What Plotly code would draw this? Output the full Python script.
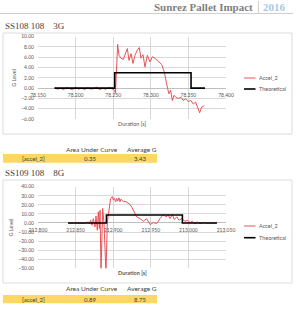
import plotly.graph_objects as go

W, H = 300, 312

# ---------------- data ----------------
c1_accel_t = [78.172, 78.176, 78.180, 78.184, 78.188, 78.192, 78.196, 78.200, 78.204, 78.208,
              78.212, 78.216, 78.220, 78.224, 78.228, 78.232, 78.236, 78.240, 78.244, 78.248,
              78.2515, 78.2530, 78.2546, 78.2559, 78.2577, 78.2604, 78.2635, 78.2666, 78.2688,
              78.2710, 78.2737, 78.2763, 78.2790, 78.2821, 78.2847, 78.2869, 78.2896, 78.2923,
              78.2954, 78.2989, 78.3020, 78.3056, 78.3100, 78.3144, 78.3180, 78.3202, 78.3224,
              78.3242, 78.3264, 78.3286, 78.3308, 78.3335, 78.3366, 78.3401, 78.3432, 78.3463,
              78.3499, 78.3534, 78.3565, 78.3596, 78.3623, 78.3649, 78.3676, 78.3711]
c1_accel_g = [0.1, -0.2, 0.0, -0.3, 0.1, -0.1, -0.3, 0.2, -0.2, 0.0,
              -0.3, 0.1, -0.2, -0.1, 0.2, -0.3, 0.0, -0.2, 0.1, -0.1,
              -0.4, -1.0, 5.1, 8.5, 6.4, 5.8, 5.6, 7.1, 7.7,
              5.4, 6.7, 4.8, 6.4, 7.4, 7.9, 5.8, 6.5, 4.1,
              6.4, 5.1, 6.1, 5.8, 5.1, 4.6, 3.1, 1.2, -0.1,
              -1.1, -0.4, -2.4, -1.4, -1.8, -2.0, -1.8, -2.4, -2.1,
              -2.6, -2.4, -3.1, -2.7, -3.7, -4.8, -3.7, -3.4]
c1_theo_t = [78.172, 78.252, 78.252, 78.3535, 78.3535, 78.372]
c1_theo_g = [0, 0, 3, 3, 0, 0]

c2_accel_t = [212.840, 212.844, 212.848, 212.852, 212.856, 212.860, 212.8647, 212.8670,
              212.8683, 212.8701, 212.8718, 212.8736, 212.8758, 212.8771, 212.8789, 212.8802,
              212.8816, 212.8825, 212.8838, 212.8860, 212.8878, 212.8904, 212.8922, 212.8949,
              212.8966, 212.8989, 212.9002, 212.9015, 212.9033, 212.9046, 212.9059, 212.9077,
              212.9090, 212.9104, 212.9121, 212.9135, 212.9157, 212.9179, 212.9201, 212.9223,
              212.9245, 212.9268, 212.9290, 212.9312, 212.9356, 212.9401, 212.9445, 212.9489,
              212.9534, 212.9578, 212.9622, 212.9667, 212.9698, 212.9733, 212.9755, 212.9786,
              212.9813, 212.9844, 212.9875, 212.9910, 212.9955, 212.9990, 213.0021, 213.0052,
              213.0087, 213.0123, 213.0154, 213.0198, 213.0242, 213.0300, 213.0380]
c2_accel_g = [0.2, -0.3, 0.1, -0.2, 0.3, -0.4, 0.5, 1.1,
              -1.1, 3.0, -2.6, 4.8, -4.4, 7.8, -8.1, 12.3,
              -6.3, 14.1, -55.0, 16.0, -0.7, -55.0, 1.1, 16.0,
              27.1, 28.9, 25.2, 27.1, 23.3, 27.1, 24.1, 27.8,
              23.3, 26.3, 25.2, 23.3, 24.1, 22.6, 21.5, 20.4,
              17.8, 14.1, 9.6, 6.7, 4.8, 1.9, 4.8, -1.8,
              0.4, -0.7, 4.8, 9.3, 6.7, 8.6, 4.8, 9.3,
              3.7, 6.7, 3.0, 4.8, 1.9, 3.0, 0.4, 1.9,
              -1.1, 1.1, -0.7, 0.4, 0.0, 0.2, 0.0]
c2_theo_t = [212.840, 212.891, 212.891, 212.992, 212.992, 213.038]
c2_theo_g = [0, 0, 8.75, 8.75, 0, 0]

series_names = ["Accel_2", "Theoretical"]
chart_titles = ["SS108 108    3G", "SS109 108    8G"]
table_headers = ["Area Under Curve", "Average G"]
table_label = "[accel_2]"
table1_values = ["0.35", "3.43"]
table2_values = ["0.89", "8.75"]

# ---------------- helpers ----------------
def fx(p):
    return p / W

def fy(p):
    return 1 - p / H

RED = "#E8545A"
GRID = "#d9d9d9"
TXT = "#595959"
FONT = "Lato"
SERIF = "Liberation Serif"

fig = go.Figure()

fig.add_trace(go.Scatter(x=c1_accel_t, y=c1_accel_g, mode="lines", name=series_names[0],
                         line=dict(color=RED, width=1), xaxis="x", yaxis="y", showlegend=False))
fig.add_trace(go.Scatter(x=c1_theo_t, y=c1_theo_g, mode="lines", name=series_names[1],
                         line=dict(color="black", width=1.6), xaxis="x", yaxis="y", showlegend=False))
fig.add_trace(go.Scatter(x=c2_accel_t, y=c2_accel_g, mode="lines", name=series_names[0],
                         line=dict(color=RED, width=1), xaxis="x2", yaxis="y2", showlegend=False))
fig.add_trace(go.Scatter(x=c2_theo_t, y=c2_theo_g, mode="lines", name=series_names[1],
                         line=dict(color="black", width=1.6), xaxis="x2", yaxis="y2", showlegend=False))

tickfont = dict(family=FONT, size=5, color=TXT)
xdom = [fx(38), fx(226)]

common_x = dict(domain=xdom, showgrid=True, gridcolor=GRID, gridwidth=0.8, zeroline=False,
                showline=False, ticks="", tickfont=tickfont, tickformat=".3f", dtick=0.05,
                anchor="free", automargin=False, ticklabelstandoff=3, fixedrange=True)
common_y = dict(showgrid=True, gridcolor=GRID, gridwidth=0.8, zeroline=True, zerolinecolor="#bfbfbf",
                zerolinewidth=1, showline=False, ticks="", tickfont=tickfont, tickformat=".2f",
                automargin=False, ticklabelstandoff=3, fixedrange=True)

fig.update_layout(
    width=W, height=H, margin=dict(l=0, r=0, t=0, b=0),
    paper_bgcolor="white", plot_bgcolor="white", showlegend=False,
    xaxis=dict(common_x, range=[78.15, 78.40], tick0=78.15, position=fy(88.3)),
    yaxis=dict(common_y, domain=[fy(119), fy(36.7)], range=[-6, 10], dtick=2, anchor="x",
               title=dict(text="G Level", font=dict(family=FONT, size=5.5, color=TXT), standoff=4)),
    xaxis2=dict(common_x, range=[212.80, 213.05], tick0=212.80, position=fy(222.7)),
    yaxis2=dict(common_y, domain=[fy(268.3), fy(186.7)], range=[-50, 40], dtick=10, anchor="x2",
                title=dict(text="G Level", font=dict(family=FONT, size=5.5, color=TXT), standoff=4)),
)

shapes = []
ann = []

def note(x, y, text, anchor, font):
    ann.append(dict(x=fx(x), y=fy(y), xref="paper", yref="paper", text=text, showarrow=False,
                    xanchor=anchor, yanchor="middle", font=font))

# header
note(255, 7, "<b>Sunrez Pallet Impact</b>", "right", dict(family=SERIF, size=11, color="#7f7f7f"))
note(261, 7, "<b>2016</b>", "left", dict(family=SERIF, size=11, color="#a9c6e8"))
shapes.append(dict(type="line", xref="paper", yref="paper", x0=fx(258.5), x1=fx(258.5),
                   y0=fy(1), y1=fy(13), line=dict(color="#d0d0d0", width=1)))
shapes.append(dict(type="line", xref="paper", yref="paper", x0=fx(0), x1=fx(293),
                   y0=fy(13.5), y1=fy(13.5), line=dict(color="#cfcfcf", width=1)))

chart_tops = [(26, 33, 134, 124, 78, 89, 149, 154, 162.7, table1_values, False),
              (173, 180, 283, 273, 226, 237.7, 288.3, 295, 303.3, table2_values, True)]
for i, (ty, b0, b1, xt, l1, l2, hy, band0, band1, vals, bold) in enumerate(chart_tops):
    note(3, ty, chart_titles[i], "left", dict(family=SERIF, size=9, color="#404040"))
    shapes.append(dict(type="rect", xref="paper", yref="paper", x0=fx(3), x1=fx(292),
                       y0=fy(b1), y1=fy(b0), line=dict(color="#dcdcdc", width=1), layer="below"))
    t = "Duration [s]"
    note(132, xt, ("<b>%s</b>" % t) if bold else t, "center", dict(family=FONT, size=5.5, color=TXT))
    # legend
    for ly, col, wdt, nm in [(l1, RED, 1, series_names[0]), (l2, "black", 1.6, series_names[1])]:
        shapes.append(dict(type="line", xref="paper", yref="paper", x0=fx(244), x1=fx(255.5),
                           y0=fy(ly), y1=fy(ly), line=dict(color=col, width=wdt)))
        note(257, ly, nm, "left", dict(family=FONT, size=5.5, color=TXT))
    # table
    note(92, hy, table_headers[0], "center", dict(family=FONT, size=6.5, color="#404040"))
    note(142, hy, table_headers[1], "center", dict(family=FONT, size=6.5, color="#404040"))
    shapes.append(dict(type="rect", xref="paper", yref="paper", x0=fx(3), x1=fx(157),
                       y0=fy(band1), y1=fy(band0), line=dict(width=0), fillcolor="#FDD663", layer="below"))
    by = (band0 + band1) / 2
    note(33, by, table_label, "center", dict(family=FONT, size=6, color="#404040"))
    note(90, by, vals[0], "center", dict(family=FONT, size=6, color="#404040"))
    note(140, by, vals[1], "center", dict(family=FONT, size=6, color="#404040"))

fig.update_layout(shapes=shapes, annotations=ann)
fig.write_html("out.html", config={"displayModeBar": False})
